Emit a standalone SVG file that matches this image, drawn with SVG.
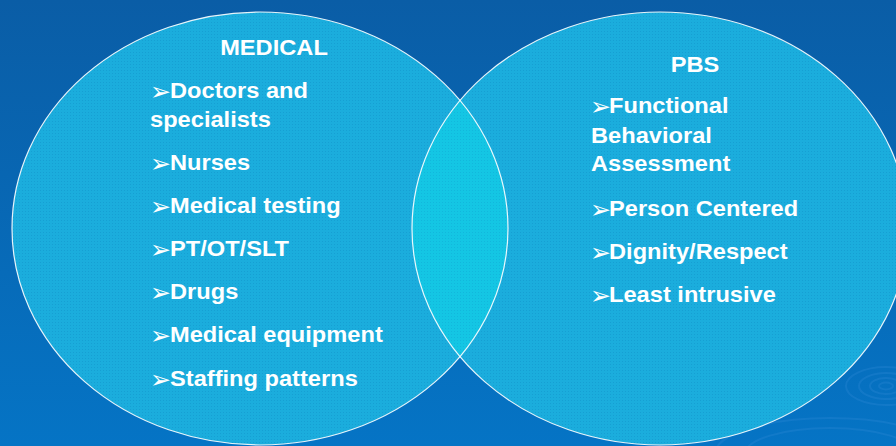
<svg xmlns="http://www.w3.org/2000/svg" width="896" height="446" viewBox="0 0 896 446">
  <defs>
    <linearGradient id="bg" x1="0" y1="0" x2="0" y2="1">
      <stop offset="0" stop-color="#0A5DA6"/>
      <stop offset="1" stop-color="#0574C5"/>
    </linearGradient>
    <!-- fine dot screen on the circle fills -->
    <pattern id="dots" width="3" height="3" patternUnits="userSpaceOnUse">
      <rect width="3" height="3" fill="#1BADDD"/>
      <rect x="1" y="1" width="1" height="1" fill="#1292CA" opacity="0.5"/>
    </pattern>
    <pattern id="dotsLens" width="3" height="3" patternUnits="userSpaceOnUse">
      <rect width="3" height="3" fill="#14C6E4"/>
      <rect x="1" y="1" width="1" height="1" fill="#10A4D4" opacity="0.45"/>
    </pattern>
    <clipPath id="leftClip">
      <ellipse cx="260" cy="228.5" rx="248" ry="216.5"/>
    </clipPath>
    <style>
      .circ { stroke: #FFFFFF; stroke-width: 1.2; stroke-opacity: 0.9; }
      .t { font-family: "Liberation Sans", Arial, sans-serif; font-weight: bold; font-size: 22px; fill: #FFFFFF; }
      .h { text-anchor: middle; }
      .b { font-family: "DejaVu Sans", sans-serif; font-size: 25px; fill: #FFFFFF; }
      .rip { fill: none; stroke: #2A86D4; stroke-width: 2; opacity: 0.35; }
    </style>
  </defs>

  <!-- background -->
  <rect width="896" height="446" fill="url(#bg)"/>

  <!-- water ripples, lower right -->
  <g id="ripples">
    <ellipse class="rip" cx="886" cy="386" rx="7" ry="3.5"/>
    <ellipse class="rip" cx="886" cy="386" rx="16" ry="8"/>
    <ellipse class="rip" cx="886" cy="386" rx="27" ry="13"/>
    <ellipse class="rip" cx="886" cy="386" rx="40" ry="19" opacity="0.2"/>
    <ellipse class="rip" cx="830" cy="454" rx="85" ry="26" opacity="0.25"/>
    <ellipse class="rip" cx="830" cy="454" rx="115" ry="36" opacity="0.18"/>
  </g>

  <!-- left set: MEDICAL -->
  <g id="medical">
    <ellipse cx="260" cy="228.5" rx="248" ry="216.5" fill="url(#dots)"/>
  </g>

  <!-- right set: PBS -->
  <g id="pbs">
    <ellipse cx="660" cy="228.5" rx="248" ry="216.5" fill="url(#dots)"/>
  </g>

  <!-- overlap of the two sets -->
  <g id="overlap">
    <ellipse cx="660" cy="228.5" rx="248" ry="216.5" fill="url(#dotsLens)" clip-path="url(#leftClip)"/>
  </g>

  <!-- outlines -->
  <g id="outlines" fill="none">
    <ellipse class="circ" cx="260" cy="228.5" rx="248" ry="216.5"/>
    <ellipse class="circ" cx="660" cy="228.5" rx="248" ry="216.5"/>
  </g>

  <!-- MEDICAL labels -->
  <g id="medical-text">
    <text class="t h" transform="translate(274 55) scale(1.075 1)">MEDICAL</text>
    <text class="b" x="150" y="100">➢</text>
    <text class="t" transform="translate(170 98) scale(1.075 1)">Doctors and</text>
    <text class="t" transform="translate(150 127) scale(1.075 1)">specialists</text>
    <text class="b" x="150" y="172">➢</text>
    <text class="t" transform="translate(170 170) scale(1.075 1)">Nurses</text>
    <text class="b" x="150" y="215">➢</text>
    <text class="t" transform="translate(170 213) scale(1.075 1)">Medical testing</text>
    <text class="b" x="150" y="258">➢</text>
    <text class="t" transform="translate(170 256) scale(1.075 1)">PT/OT/SLT</text>
    <text class="b" x="150" y="301">➢</text>
    <text class="t" transform="translate(170 299) scale(1.075 1)">Drugs</text>
    <text class="b" x="150" y="344">➢</text>
    <text class="t" transform="translate(170 342) scale(1.075 1)">Medical equipment</text>
    <text class="b" x="150" y="388">➢</text>
    <text class="t" transform="translate(170 386) scale(1.075 1)">Staffing patterns</text>
  </g>

  <!-- PBS labels -->
  <g id="pbs-text">
    <text class="t h" transform="translate(695 72) scale(1.075 1)">PBS</text>
    <text class="b" x="590" y="115">➢</text>
    <text class="t" transform="translate(609 113) scale(1.075 1)">Functional</text>
    <text class="t" transform="translate(591 143) scale(1.075 1)">Behavioral</text>
    <text class="t" transform="translate(591 171) scale(1.075 1)">Assessment</text>
    <text class="b" x="590" y="218">➢</text>
    <text class="t" transform="translate(609 216) scale(1.075 1)">Person Centered</text>
    <text class="b" x="590" y="261">➢</text>
    <text class="t" transform="translate(609 259) scale(1.075 1)">Dignity/Respect</text>
    <text class="b" x="590" y="304">➢</text>
    <text class="t" transform="translate(609 302) scale(1.075 1)">Least intrusive</text>
  </g>
</svg>
